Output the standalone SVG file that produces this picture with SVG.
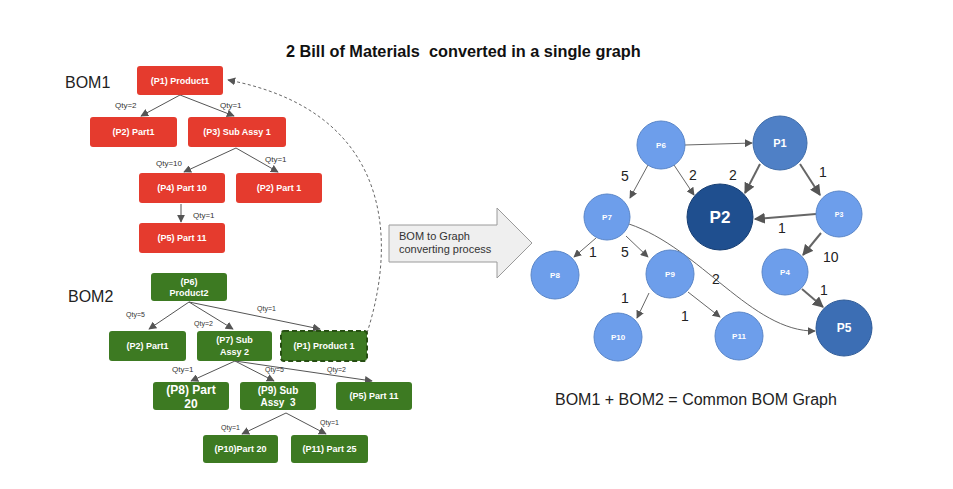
<svg xmlns="http://www.w3.org/2000/svg" width="953" height="489" viewBox="0 0 953 489">
<style>
.title{font-family:"Liberation Sans",Arial,sans-serif;font-weight:bold;font-size:16.3px;fill:#111;white-space:pre}
.big{font-family:"Liberation Sans",Arial,sans-serif;font-size:16px;fill:#222}
.cap{font-family:"Liberation Sans",Arial,sans-serif;font-size:16px;fill:#222}
.red{fill:#e53b2e}
.grn{fill:#3d7a22}
.bt{font-family:"Liberation Sans",Arial,sans-serif;font-weight:bold;font-size:9px;fill:#fff;text-anchor:middle}
.bt12{font-family:"Liberation Sans",Arial,sans-serif;font-weight:bold;font-size:12px;fill:#fff;text-anchor:middle}
.bt10{font-family:"Liberation Sans",Arial,sans-serif;font-weight:bold;font-size:10px;fill:#fff;text-anchor:middle;white-space:pre}
.q{font-family:"Liberation Sans",Arial,sans-serif;font-size:8px;fill:#333}
.q7{font-family:"Liberation Sans",Arial,sans-serif;font-size:7px;fill:#333}
.e{stroke:#555;stroke-width:1;fill:none;marker-end:url(#ah)}
.et{stroke:#666;stroke-width:1;fill:none;marker-end:url(#ah)}
.ek{stroke:#666;stroke-width:2;fill:none;marker-end:url(#ahk)}
.cl{fill:#6d9eeb;stroke:#5a86c8;stroke-width:1}
.ct{font-family:"Liberation Sans",Arial,sans-serif;font-weight:bold;fill:#fff;text-anchor:middle}
.n{font-family:"Liberation Sans",Arial,sans-serif;font-size:14px;fill:#222}
.at{font-family:"Liberation Sans",Arial,sans-serif;font-size:11px;fill:#333}
</style>
<defs>
<marker id="ah" viewBox="0 0 10 10" refX="9" refY="5" markerWidth="8" markerHeight="8" markerUnits="userSpaceOnUse" orient="auto">
<path d="M0,0 L10,5 L0,10 z" fill="#555"/>
</marker>
<marker id="ahk" viewBox="0 0 10 10" refX="9" refY="5" markerWidth="11" markerHeight="11" markerUnits="userSpaceOnUse" orient="auto">
<path d="M0,0 L10,5 L0,10 z" fill="#555"/>
</marker>
</defs>
<rect width="953" height="489" fill="#fff"/>
<text class="title" x="286" y="57" xml:space="preserve">2 Bill of Materials  converted in a single graph</text>
<text class="big" x="65" y="88">BOM1</text>
<text class="big" x="68" y="302">BOM2</text>

<g id="connectors">
<path class="e" d="M180,95 L141,116"/>
<path class="e" d="M180,95 L234,116"/>
<path class="e" d="M236,148 L184,172"/>
<path class="e" d="M236,148 L278,172"/>
<path class="e" d="M181,204 L181,222"/>
<path d="M367,333 C400,230 385,110 228,80" fill="none" stroke="#666" stroke-width="1" stroke-dasharray="3,2.5" marker-end="url(#ah)"/>
<path class="e" d="M189,302 L149,329"/>
<path class="e" d="M189,302 L233,329"/>
<path class="e" d="M189,302 L320,329"/>
<path class="e" d="M235,361 L191,381"/>
<path class="e" d="M235,361 L274,381"/>
<path class="e" d="M235,361 L372,381"/>
<path class="e" d="M286,413 L242,434"/>
<path class="e" d="M286,413 L326,434"/>
<text class="q" x="115" y="108">Qty=2</text>
<text class="q" x="220" y="108">Qty=1</text>
<text class="q" x="156" y="166">Qty=10</text>
<text class="q" x="265" y="162">Qty=1</text>
<text class="q" x="193" y="218">Qty=1</text>
<text class="q7" x="126" y="317">Qty=5</text>
<text class="q7" x="194" y="326">Qty=2</text>
<text class="q7" x="257" y="311">Qty=1</text>
<text class="q" x="172" y="372">Qty=1</text>
<text class="q7" x="265" y="372">Qty=5</text>
<text class="q7" x="327" y="372">Qty=2</text>
<text class="q7" x="221" y="430">Qty=1</text>
<text class="q7" x="320" y="425">Qty=1</text>

<path class="et" d="M685,145 L752,143"/>
<path class="et" d="M648,165 L630,198"/>
<path class="et" d="M674,165 L694,195"/>
<path class="ek" d="M760,164 L745,193"/>
<path class="ek" d="M800,164 L820,195"/>
<path class="ek" d="M816,214 L755,219"/>
<path class="ek" d="M821,233 L803,255"/>
<path class="ek" d="M802,289 L823,307"/>
<path class="et" d="M596,238 L574,257"/>
<path class="et" d="M626,236 L648,257"/>
<path class="et" d="M649,293 L637,318"/>
<path class="et" d="M688,292 L720,317"/>
<path class="et" d="M629,224 C700,248 752,332 815,331"/>
<text class="n" x="621" y="181">5</text>
<text class="n" x="689" y="180">2</text>
<text class="n" x="729" y="180">2</text>
<text class="n" x="819" y="177">1</text>
<text class="n" x="778" y="233">1</text>
<text class="n" x="823" y="262">10</text>
<text class="n" x="820" y="295">1</text>
<text class="n" x="589" y="257">1</text>
<text class="n" x="621" y="257">5</text>
<text class="n" x="712" y="284">2</text>
<text class="n" x="621" y="303">1</text>
<text class="n" x="681" y="321">1</text>
</g>

<g id="bom1-p1"><rect class="red" x="137" y="66" width="86" height="29" rx="3"/><text class="bt" x="180" y="84">(P1) Product1</text></g>
<g id="bom1-p2"><rect class="red" x="90" y="117" width="87" height="30" rx="3"/><text class="bt" x="133.5" y="135">(P2) Part1</text></g>
<g id="bom1-p3"><rect class="red" x="188" y="117" width="98" height="30" rx="3"/><text class="bt" x="237" y="135">(P3) Sub Assy 1</text></g>
<g id="bom1-p4"><rect class="red" x="139" y="173" width="86" height="30" rx="3"/><text class="bt" x="182" y="191">(P4) Part 10</text></g>
<g id="bom1-p2b"><rect class="red" x="236" y="173" width="86" height="30" rx="3"/><text class="bt" x="279" y="191">(P2) Part 1</text></g>
<g id="bom1-p5"><rect class="red" x="139" y="223" width="86" height="30" rx="3"/><text class="bt" x="182" y="241">(P5) Part 11</text></g>

<g id="bom2-p6"><rect class="grn" x="151" y="273" width="76" height="28" rx="3"/><text class="bt" x="189" y="285">(P6)</text><text class="bt" x="189" y="296">Product2</text></g>
<g id="bom2-p2"><rect class="grn" x="109" y="331" width="77" height="30" rx="3"/><text class="bt" x="147.5" y="349">(P2) Part1</text></g>
<g id="bom2-p7"><rect class="grn" x="197" y="331" width="75" height="30" rx="3"/><text class="bt" x="234.5" y="343">(P7) Sub</text><text class="bt" x="234.5" y="355">Assy 2</text></g>
<g id="bom2-p1"><rect class="grn" x="281" y="331" width="86" height="30" rx="3" stroke="#274e13" stroke-width="2" stroke-dasharray="5,3"/><text class="bt" x="324" y="349">(P1) Product 1</text></g>
<g id="bom2-p8"><rect class="grn" x="153" y="382" width="76" height="28" rx="3"/><text class="bt12" x="191" y="394">(P8) Part</text><text class="bt12" x="191" y="408">20</text></g>
<g id="bom2-p9"><rect class="grn" x="240" y="382" width="76" height="28" rx="3"/><text class="bt10" x="278" y="394">(P9) Sub</text><text class="bt10" x="278" y="406" xml:space="preserve">Assy  3</text></g>
<g id="bom2-p5"><rect class="grn" x="336" y="382" width="76" height="28" rx="3"/><text class="bt" x="374" y="399">(P5) Part 11</text></g>
<g id="bom2-p10"><rect class="grn" x="203" y="435" width="75" height="28" rx="3"/><text class="bt" x="240.5" y="452">(P10)Part 20</text></g>
<g id="bom2-p11"><rect class="grn" x="291" y="435" width="77" height="28" rx="3"/><text class="bt" x="329.5" y="452">(P11) Part 25</text></g>

<g id="convert-arrow"><path d="M389,225 L497,225 L497,208 L532,243 L497,278 L497,262 L389,262 z" fill="#efefef" stroke="#9a9a9a" stroke-width="1"/><text class="at" x="399" y="240">BOM to Graph</text><text class="at" x="399" y="253">converting process</text></g>

<g id="g-p6"><circle class="cl" cx="661" cy="145" r="24"/><text class="ct" x="661" y="148" font-size="8">P6</text></g>
<g id="g-p1"><circle cx="780" cy="143" r="27" fill="#4f80c6" stroke="#3f6ca8"/><text class="ct" x="780" y="147" font-size="11">P1</text></g>
<g id="g-p2"><circle cx="720" cy="217" r="33" fill="#1f4f8f" stroke="#173e72"/><text class="ct" x="720" y="223" font-size="17">P2</text></g>
<g id="g-p3"><circle class="cl" cx="839" cy="214" r="23"/><text class="ct" x="839" y="217" font-size="7">P3</text></g>
<g id="g-p7"><circle class="cl" cx="607" cy="217" r="23"/><text class="ct" x="607" y="220" font-size="8">P7</text></g>
<g id="g-p4"><circle class="cl" cx="785" cy="272" r="23"/><text class="ct" x="785" y="275" font-size="8">P4</text></g>
<g id="g-p8"><circle class="cl" cx="555" cy="275" r="24"/><text class="ct" x="555" y="278" font-size="8">P8</text></g>
<g id="g-p9"><circle class="cl" cx="670" cy="274" r="24"/><text class="ct" x="670" y="277" font-size="8">P9</text></g>
<g id="g-p5"><circle cx="844" cy="328" r="28" fill="#3c6eb4" stroke="#305c98"/><text class="ct" x="844" y="332" font-size="12">P5</text></g>
<g id="g-p10"><circle class="cl" cx="618" cy="337" r="24"/><text class="ct" x="618" y="340" font-size="8">P10</text></g>
<g id="g-p11"><circle class="cl" cx="739" cy="336" r="24"/><text class="ct" x="739" y="339" font-size="8">P11</text></g>

<text class="cap" x="555" y="405">BOM1 + BOM2 = Common BOM Graph</text>
</svg>
